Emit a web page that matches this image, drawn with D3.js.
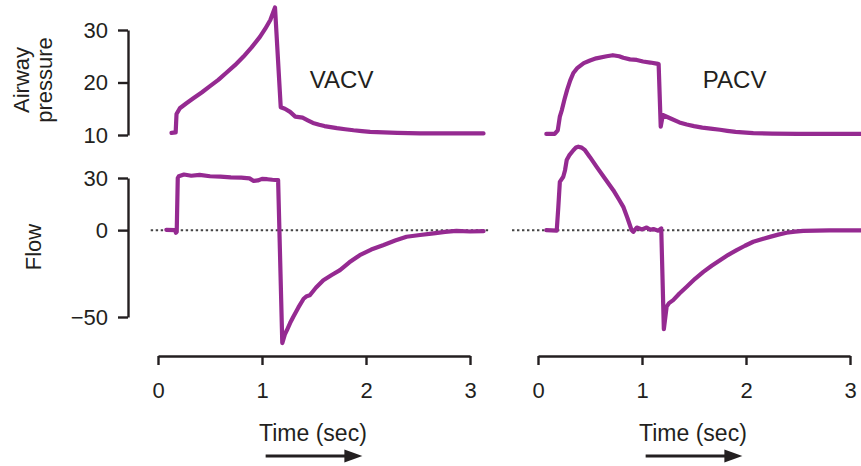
<!DOCTYPE html>
<html>
<head>
<meta charset="utf-8">
<script src="https://cdn.jsdelivr.net/npm/d3@7"></script>
<style>
  body { margin: 0; background: #fff; }
  svg { display: block; font-family: "Liberation Sans", Arial, sans-serif; }
  .axis path, .axis line { stroke: #231f20; stroke-width: 2.4px; }
  .axis text { fill: #231f20; font-size: 22px; }
</style>
</head>
<body>
<svg id="chart"></svg>
<script>
var chartWidth = 861;
var chartHeight = 466;

/********
 * Data *
 ********/

// [time (sec), airway pressure]
var vacvPressure = [
  [0.13,10.4],[0.17,10.5],[0.178,14.0],[0.21,15.1],[0.27,16.0],[0.34,17.0],[0.42,18.1],
  [0.5,19.3],[0.58,20.5],[0.66,21.9],[0.74,23.3],[0.82,24.9],[0.9,26.7],[0.98,28.7],
  [1.03,30.2],[1.08,31.9],[1.125,34.3],[1.18,15.3],[1.22,15.0],[1.27,14.4],[1.32,13.5],
  [1.39,13.3],[1.44,12.8],[1.49,12.3],[1.55,11.95],[1.6,11.7],[1.66,11.5],[1.72,11.3],
  [1.8,11.1],[1.88,10.9],[1.96,10.75],[2.04,10.6],[2.17,10.5],[2.3,10.4],[2.52,10.3],
  [3.13,10.3]
];

// [time (sec), flow]
var vacvFlow = [
  [0.08,0.2],[0.165,0],[0.172,-1.5],[0.18,-1],[0.19,30],[0.2,31],[0.25,32],[0.32,31.3],
  [0.4,31.8],[0.5,31],[0.6,30.8],[0.7,30.4],[0.8,30.2],[0.88,29.8],[0.92,28.3],[0.96,28.6],
  [1.0,29.5],[1.05,29.3],[1.1,29],[1.155,28.8],[1.195,-65],[1.22,-60],[1.24,-57.5],
  [1.27,-53.5],[1.30,-50],[1.35,-44.5],[1.40,-39.5],[1.43,-38],[1.46,-37.5],[1.52,-33],
  [1.59,-28.8],[1.67,-25.8],[1.75,-23],[1.84,-18.5],[1.94,-14.4],[2.05,-11.2],[2.17,-8.6],
  [2.28,-6],[2.39,-3.8],[2.52,-2.8],[2.65,-1.9],[2.76,-1],[2.87,-0.4],[3.0,-0.8],[3.13,-0.6]
];

var pacvPressure = [
  [0.08,10.2],[0.16,10.2],[0.19,10.9],[0.21,13.5],[0.23,14.8],[0.255,16.8],[0.28,18.6],
  [0.31,20.4],[0.34,21.8],[0.38,22.8],[0.44,23.7],[0.5,24.2],[0.56,24.6],[0.66,25.0],
  [0.72,25.2],[0.78,25.0],[0.82,24.7],[0.885,24.4],[0.95,24.3],[1.01,24.0],[1.08,23.8],
  [1.14,23.6],[1.16,23.5],[1.18,11.6],[1.2,13.8],[1.27,13.2],[1.36,12.4],[1.43,12.0],
  [1.5,11.7],[1.58,11.4],[1.66,11.2],[1.75,11.0],[1.82,10.8],[1.9,10.6],[2.0,10.45],
  [2.07,10.35],[2.25,10.25],[2.5,10.2],[3.11,10.2]
];

var pacvFlow = [
  [0.08,0],[0.18,-0.3],[0.195,13],[0.21,27.8],[0.243,30.7],[0.26,34.5],[0.276,40.3],
  [0.3,43],[0.34,46],[0.365,47.5],[0.388,48],[0.42,47.5],[0.452,46],[0.5,42],[0.564,36.4],
  [0.64,30],[0.724,23],[0.78,17.5],[0.82,13.4],[0.86,7],[0.9,0],[0.916,-1],[0.95,1.5],
  [1.0,0.4],[1.045,1.5],[1.08,0.2],[1.11,0.6],[1.157,-0.3],[1.185,1],[1.21,-57],
  [1.237,-44],[1.26,-42],[1.30,-40.3],[1.36,-36.5],[1.43,-32.6],[1.51,-28],[1.59,-24],
  [1.67,-20.5],[1.75,-17.3],[1.83,-14.2],[1.91,-11.5],[1.99,-9],[2.07,-6.7],[2.15,-5.2],
  [2.23,-3.9],[2.31,-2.6],[2.39,-1.5],[2.47,-0.9],[2.55,-0.4],[2.8,-0.1],[3.11,-0.1]
];

var timeTicks = [0, 1, 2, 3];
var pressureTicks = [10, 20, 30];
var flowTicks = [-50, 0, 30];

var modeNames = ["VACV", "PACV"];

/**********
 * Scales *
 **********/

var xLeft = d3.scaleLinear().domain([0, 3]).range([158, 470]);
var xRight = d3.scaleLinear().domain([0, 3]).range([538, 850]);
var yPressure = d3.scaleLinear().domain([10, 30]).range([135, 30]);
var yFlow = d3.scaleLinear().domain([-50, 30]).range([317, 178]);

var canvas = d3.select("#chart")
    .attr("width", chartWidth)
    .attr("height", chartHeight);

var purple = "#952a91";
var ink = "#231f20";

/**************
 * Make Chart *
 **************/

function drawPanel(x, pressure, flow, name, zeroFrom, zeroTo, labelAt) {
    // dotted zero line for flow
    canvas.append("line")
        .attr("x1", x(zeroFrom))
        .attr("x2", x(zeroTo))
        .attr("y1", yFlow(0))
        .attr("y2", yFlow(0))
        .attr("stroke", "#444")
        .attr("stroke-width", 2)
        .attr("stroke-dasharray", "2.4,2.6");

    var pLine = d3.line()
        .x(function(d){ return x(d[0]); })
        .y(function(d){ return yPressure(d[1]); });

    var fLine = d3.line()
        .x(function(d){ return x(d[0]); })
        .y(function(d){ return yFlow(d[1]); });

    canvas.append("path")
        .datum(pressure)
        .attr("d", pLine)
        .attr("fill", "none")
        .attr("stroke", purple)
        .attr("stroke-width", 4.2)
        .attr("stroke-linejoin", "round")
        .attr("stroke-linecap", "round");

    canvas.append("path")
        .datum(flow)
        .attr("d", fLine)
        .attr("fill", "none")
        .attr("stroke", purple)
        .attr("stroke-width", 4.2)
        .attr("stroke-linejoin", "round")
        .attr("stroke-linecap", "round");

    // time axis
    var xAxis = d3.axisBottom(x)
        .tickValues(timeTicks)
        .tickSize(9)
        .tickSizeOuter(0)
        .tickPadding(17)
        .tickFormat(d3.format("d"));

    canvas.append("g")
        .attr("class", "axis")
        .attr("transform", "translate(0,356)")
        .call(xAxis)
        .call(function(g){ g.select(".domain").attr("stroke-width", 2.6); });

    // mode label
    canvas.append("text")
        .attr("x", x(labelAt))
        .attr("y", 88)
        .attr("fill", ink)
        .attr("font-size", "24px")
        .text(name);

    // "Time (sec)" + arrow
    canvas.append("text")
        .attr("x", x(1.49))
        .attr("y", 441)
        .attr("text-anchor", "middle")
        .attr("fill", ink)
        .attr("font-size", "23px")
        .text("Time (sec)");

    var ax0 = x(1.035), ax1 = x(1.965), ay = 456;
    canvas.append("line")
        .attr("x1", ax0).attr("x2", ax1 - 14)
        .attr("y1", ay).attr("y2", ay)
        .attr("stroke", ink)
        .attr("stroke-width", 3);
    canvas.append("path")
        .attr("d", "M" + ax1 + "," + ay + "L" + (ax1 - 18) + "," + (ay - 6.5) +
                   "L" + (ax1 - 18) + "," + (ay + 6.5) + "Z")
        .attr("fill", ink);
}

drawPanel(xLeft, vacvPressure, vacvFlow, modeNames[0], -0.07, 3.19, 1.46);
drawPanel(xRight, pacvPressure, pacvFlow, modeNames[1], -0.25, 3.11, 1.585);

// y axes (left panel only)
var yAxisP = d3.axisLeft(yPressure)
    .tickValues(pressureTicks)
    .tickSize(10)
    .tickSizeOuter(0)
    .tickPadding(10);

canvas.append("g")
    .attr("class", "axis")
    .attr("transform", "translate(128,0)")
    .call(yAxisP);

var yAxisF = d3.axisLeft(yFlow)
    .tickValues(flowTicks)
    .tickSize(10)
    .tickSizeOuter(0)
    .tickPadding(10);

canvas.append("g")
    .attr("class", "axis")
    .attr("transform", "translate(128,0)")
    .call(yAxisF);

// axis titles
canvas.append("text")
    .attr("transform", "translate(29,80) rotate(-90)")
    .attr("text-anchor", "middle")
    .attr("fill", ink)
    .attr("font-size", "22px")
    .text("Airway");

canvas.append("text")
    .attr("transform", "translate(52,80) rotate(-90)")
    .attr("text-anchor", "middle")
    .attr("fill", ink)
    .attr("font-size", "22px")
    .text("pressure");

canvas.append("text")
    .attr("transform", "translate(41,247) rotate(-90)")
    .attr("text-anchor", "middle")
    .attr("fill", ink)
    .attr("font-size", "22px")
    .text("Flow");
</script>
</body>
</html>
